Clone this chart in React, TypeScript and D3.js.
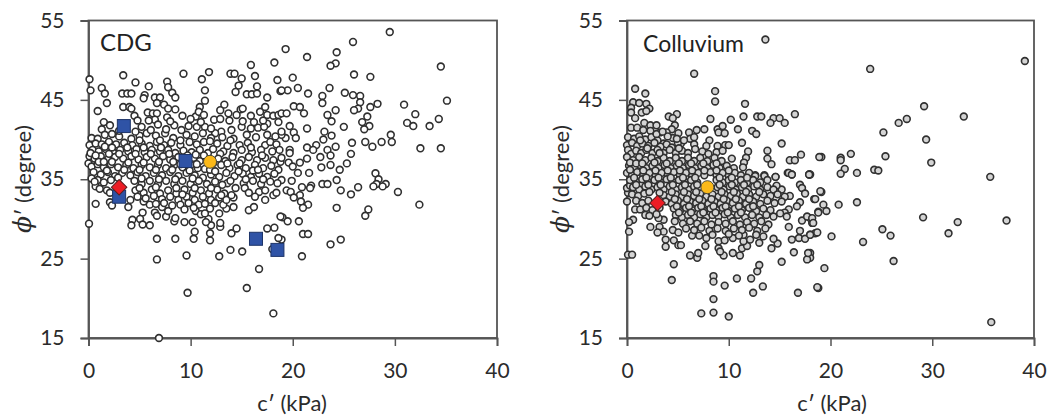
import * as d3 from "d3";
import { useEffect, useRef } from "react";

type Pt = [number, number];

const xTicks = [0, 10, 20, 30, 40];
const yTicks = [15, 25, 35, 45, 55];

// c' (kPa), phi' (degree)
const cdgPoints: Pt[] = [
  [0.1,47.6],[0.2,46.2],[3.4,48.1],[4.6,47.2],[1.3,46.5],[1.6,45.8],[1.8,44.6],[0.9,43.6],[3.3,45.8],[3.8,45.8],[4.2,45.8],[5.9,46.7],[5.5,45.6],[5.4,45.2],
  [7.7,47.3],[7.8,46.6],[8.2,45.9],[8.5,45.3],[9.3,48.3],[11.1,47.6],[11.8,48.5],[11.4,46.2],[11.4,44.9],[10.9,44.1],[13.9,48.3],[14.3,48.3],[15.0,47.7],[14.7,46.8],[14.4,46.0],
  [15.9,49.4],[16.3,48.0],[16.5,46.7],[15.5,45.7],[16.0,45.7],[16.5,45.8],[17.5,45.3],[18.2,49.7],[18.5,47.5],[18.8,46.1],[3.4,44.1],[4.0,44.1],[4.2,43.9],[4.5,43.0],
  [6.5,45.3],[7.0,45.3],[6.7,44.6],[7.4,44.4],[7.8,43.9],[8.5,43.8],[5.8,43.4],[6.3,43.3],[6.7,43.3],[6.5,42.5],[7.7,42.8],[9.2,43.0],[10.5,42.9],[10.8,43.5],[11.3,43.1],[12.3,42.5],
  [13.3,44.4],[12.9,43.7],[13.7,43.3],[14.9,43.8],[15.1,43.9],[14.5,43.1],[15.9,43.0],[16.8,43.5],[17.3,44.1],[17.5,43.1],[18.1,43.0],[18.6,43.1],
  [29.5,53.55],[25.9,52.3],[19.3,51.4],[21.4,50.4],[24.3,51.0],[24.2,49.6],[23.7,49.3],[34.5,49.2],[26.0,48.2],[27.6,47.9],[20.0,47.8],[23.6,46.5],[20.5,46.5],[19.5,46.2],[18.9,46.2],
  [21.5,45.8],[25.1,45.9],[25.9,45.6],[26.6,45.5],[22.9,45.5],[22.9,44.6],[26.6,44.7],[35.1,44.9],[28.3,44.5],[27.6,44.1],[30.9,44.4],[26.4,43.9],[26.0,43.7],[24.2,43.7],[20.1,44.2],[20.7,44.1],
  [21.1,43.3],[18.9,43.3],[19.4,43.3],[32.0,43.2],[34.3,42.6],[23.4,43.1],[23.8,42.3],[27.3,42.9],[26.8,42.2],[27.5,41.7],[27.0,41.3],[31.2,42.1],[31.8,41.7],[33.4,41.7],[25.0,41.6],[21.4,41.4],[19.7,41.7],
  [23.1,41.0],[23.8,40.5],[20.1,40.9],[23.0,40.0],[20.3,40.2],[19.3,40.2],[18.9,40.6],[29.6,40.6],[29.7,39.7],[28.7,39.7],[27.1,39.7],[27.8,39.1],[25.8,39.6],[24.2,39.1],[32.5,38.9],[34.5,38.9],
  [21.4,39.0],[22.3,39.3],[23.4,38.7],[22.0,38.7],[19.7,38.7],[19.7,38.3],[25.7,38.2],[23.7,38.0],[22.7,37.8],[21.4,37.6],[20.7,37.1],[19.6,37.1],[20.0,36.6],[18.8,37.2],[25.3,37.0],[23.7,36.8],[22.8,36.5],
  [24.6,36.2],[21.6,35.8],[20.5,35.8],[28.1,35.75],[28.4,35.0],[24.3,34.9],[19.9,34.8],[18.9,34.9],[29.1,34.4],[28.2,34.4],[27.9,34.1],[28.8,34.1],[30.3,33.4],[32.4,31.8],[26.4,34.0],[25.7,33.1],[24.7,33.6],
  [22.9,34.4],[23.4,34.4],[21.8,34.2],[21.7,33.9],[20.9,34.0],[19.4,33.6],[19.8,33.4],[20.7,33.0],[20.1,32.7],[20.8,32.2],[21.5,31.8],[21.0,31.4],[24.3,31.4],[27.4,31.2],[27.1,30.4],[19.0,30.2],[19.5,29.7],[20.6,29.7],
  [21.0,28.1],[21.5,28.1],[24.7,27.4],[23.7,26.8],[18.9,27.4],[20.9,25.3],
  [0.05,29.4],[0.7,34.1],[0.7,31.9],[1.8,33.6],[2.1,32.1],[2.3,31.7],[3.9,31.5],[4.1,32.4],[5.3,30.8],[4.3,29.9],[5.05,30.0],[4.2,29.2],[5.3,29.3],[6.0,29.2],[6.5,30.8],[6.7,30.4],[6.7,27.5],[8.5,27.5],[6.7,24.9],
  [9.7,20.7],[9.6,25.4],[10.3,27.5],[10.4,28.4],[9.4,29.6],[10.2,29.6],[8.4,29.7],[8.5,30.1],[7.6,30.3],[7.8,31.0],[7.2,31.5],[6.0,31.8],[5.4,32.2],[11.9,27.3],[11.9,28.2],[12.8,25.3],[13.9,26.1],[15.05,25.9],
  [16.7,23.7],[15.5,21.3],[14.0,28.2],[14.5,28.8],[12.9,29.0],[12.9,29.5],[12.0,29.2],[11.75,30.0],[11.5,29.6],[10.5,31.0],[11.0,30.6],[11.4,30.7],[11.9,31.3],[12.8,30.7],[13.5,31.3],[14.2,31.5],[13.2,31.8],
  [15.7,31.1],[16.2,31.5],[17.5,28.8],[18.2,28.9],[17.3,32.4],[18.1,33.0],[18.0,26.2],[18.6,27.6],[18.8,30.3],[13.6,34.5],[15.2,34.5],[14.4,33.9],[15.3,33.9],[16.7,33.4],[16.3,32.8],[6.9,15.0],[18.1,18.1],
  [1.5,42.2],[1.3,41.3],[2.1,41.8],[5.9,42.4],[5.2,41.6],[6.8,41.9],[8.4,41.8],[9.8,41.7],[10.6,41.6],[11.4,41.6],[13.0,41.0],[14.0,41.2],[15.0,41.6],[15.9,41.4],[16.6,41.5],[17.5,42.0],[18.6,42.2],[17.2,41.6],[12.4,40.8],
  [8.0,42.3],[10.0,42.6],[11.0,42.2],[12.9,42.6],[13.8,42.4],[15.1,42.3],[16.2,42.2],[17.1,42.4],[4.8,42.4],[18.9,41.0],
  [0.3,40.2],[0.9,40.1],[1.6,40.6],[2.3,40.7],[3.0,40.4],[4.2,40.1],[5.0,40.5],[5.7,40.8],[6.6,40.5],[7.5,40.8],[8.3,40.2],[9.6,40.6],[10.4,40.4],[11.2,40.8],[12.0,40.2],[13.1,40.3],[14.2,40.1],[15.5,40.6],[16.4,40.3],[17.5,40.6],[18.3,40.4],
  [0.1,39.3],[0.7,39.5],[1.3,39.4],[2.0,39.7],[2.7,39.4],[3.5,39.6],[4.3,39.3],[5.2,39.5],[6.0,39.2],[6.7,39.7],[7.4,39.3],[8.1,39.6],[9.0,39.3],[9.9,39.7],[10.6,39.4],[11.3,39.7],[12.6,39.5],[13.6,39.2],[14.8,39.3],[15.6,39.6],[17.3,39.3],[17.8,39.7],[18.4,39.4],
  [0.4,38.7],[1.0,38.5],[1.7,38.8],[2.4,38.4],[3.1,38.7],[3.9,38.5],[4.7,38.8],[5.5,38.4],[6.2,38.7],[7.0,38.5],[7.8,38.7],[8.5,38.3],[9.3,38.6],[10.1,38.4],[10.9,38.7],[11.7,38.3],[12.2,38.8],[13.2,38.5],[14.2,38.3],[15.0,38.7],[16.0,38.4],[16.9,38.7],[18.0,38.5],[18.7,38.7],[12.9,38.2],
  [0.1,37.9],[0.6,37.6],[1.2,37.9],[1.9,37.5],[2.6,37.8],[3.4,37.6],[4.2,37.9],[4.9,37.5],[5.7,37.8],[6.5,37.6],[7.3,37.9],[8.0,37.5],[8.8,37.8],[10.3,37.7],[10.9,37.3],[12.7,37.6],[13.4,37.3],[14.1,37.8],[15.0,37.4],[15.7,37.8],[16.5,37.4],[17.3,37.7],[18.1,37.4],[18.9,37.7],
  [0.0,37.0],[0.3,36.6],[0.9,36.9],[1.5,36.5],[2.2,36.9],[2.9,36.5],[3.7,36.8],[4.4,36.4],[5.2,36.8],[6.0,36.5],[6.8,36.8],[7.6,36.4],[8.4,36.8],[9.2,36.5],[10.0,36.8],[10.7,36.4],[11.4,36.3],[13.0,36.8],[13.8,36.4],[14.6,36.8],[15.4,36.4],[16.3,36.8],[17.1,36.4],[17.9,36.7],[18.6,36.2],
  [0.5,35.9],[1.2,35.6],[1.9,35.9],[2.6,35.4],[3.3,35.8],[4.1,35.5],[4.8,35.9],[5.6,35.4],[6.4,35.8],[7.2,35.5],[8.0,35.9],[8.8,35.4],[9.6,35.8],[10.4,35.5],[11.2,35.2],[12.0,35.6],[12.8,35.3],[13.5,35.8],[14.3,35.4],[15.1,35.7],[15.9,35.3],[16.7,35.7],[17.5,35.3],[18.2,35.7],
  [0.9,34.9],[1.5,34.6],[2.2,34.9],[4.5,34.8],[5.2,34.4],[6.0,34.8],[6.8,34.4],[7.6,34.8],[8.4,34.4],[9.2,34.8],[10.0,34.4],[10.8,34.8],[11.6,34.4],[12.4,34.7],[13.1,34.3],[13.9,34.8],[16.1,34.8],[16.9,34.4],[17.8,34.7],[18.5,34.5],
  [1.1,33.8],[2.1,33.3],[4.6,33.6],[5.4,33.3],[6.2,33.7],[7.0,33.2],[7.8,33.6],[8.6,33.2],[9.4,33.7],[10.2,33.3],[11.0,33.6],[11.8,33.2],[12.6,33.7],[13.3,33.2],[15.7,33.3],[17.3,33.6],[18.4,33.3],
  [4.8,32.8],[5.6,32.6],[6.4,32.9],[7.2,32.5],[8.0,32.8],[8.8,32.4],[9.6,32.8],[10.4,32.4],[11.2,32.8],[12.0,32.4],[12.8,32.7],[13.5,32.4],[14.2,32.7],
  [6.6,31.9],[8.2,31.7],[9.0,31.8],[9.8,32.0],[10.8,31.8],[11.4,31.9],[12.4,32.0],[14.0,33.0],
  // second pass over the crowded middle
  [1.6,39.1],[2.3,39.0],[3.0,38.2],[3.8,39.0],[4.6,38.2],[5.4,39.0],[6.1,38.2],[7.1,39.0],[7.9,38.2],[9.0,39.9],[9.7,38.0],[10.5,38.1],[11.3,38.0],[2.0,38.2],[1.0,37.2],[2.3,37.2],[3.9,37.1],[5.4,37.1],[6.9,37.2],[8.3,37.2],[9.0,36.9],[10.6,36.9],[12.2,37.0],[1.8,36.1],[3.5,36.2],[5.0,36.2],[6.6,36.2],[8.2,36.2],[9.9,36.1],[11.9,36.2],[2.9,35.2],[5.2,35.1],[6.9,35.0],[8.5,35.0],[10.2,35.1],[12.4,36.0],[14.7,36.0],[16.1,36.1],[0.3,35.1],[0.6,34.7],[0.2,38.3],[0.7,38.0],[1.5,37.2],[4.6,41.0],[6.1,41.2],[7.6,41.3],[9.1,41.2],[3.0,41.1],[5.0,39.9],[7.0,39.9],[11.9,39.8],[13.9,39.9],[12.0,41.4],[15.9,39.0],[17.0,38.0],[13.6,37.0],[15.4,35.0],[17.1,35.0],[14.8,37.0],[16.6,36.2],[8.6,33.9],[6.6,34.0],[10.4,33.9],[12.0,33.9],[5.0,33.9],[13.0,33.0],[9.2,33.1],[7.4,32.0],[9.4,31.2],[10.3,31.4],
];

const colluviumPoints: Pt[] = [
  [39.1,49.9],[23.9,48.9],[29.2,44.2],[33.1,42.9],[27.5,42.6],[26.7,42.1],[25.2,40.9],[29.4,40.0],[25.4,37.9],[29.9,37.1],[22.0,38.2],[19.1,37.8],[21.0,37.7],[21.0,37.4],[21.4,36.3],[21.0,35.7],[22.6,35.8],[24.3,36.2],[24.7,36.1],[18.0,35.6],
  [35.7,35.3],[19.1,33.4],[18.4,32.5],[22.6,32.1],[20.8,31.8],[19.3,31.8],[18.8,30.9],[19.6,31.0],[29.1,30.2],[32.5,29.6],[37.3,29.8],[31.6,28.2],[25.1,28.7],[25.9,27.9],[23.2,27.1],[20.1,27.8],[18.5,28.2],[26.2,24.7],[19.4,23.8],[18.8,21.3],[35.8,17.0],
  [18.0,30.1],[18.2,29.5],[18.0,28.0],[18.0,25.7],[18.0,25.1],
  [13.6,52.6],[6.6,48.3],[0.8,46.4],[1.8,45.8],[8.66,46.1],[8.66,44.8],[11.6,44.5],[0.6,44.7],[1.2,44.6],[1.9,44.5],[2.2,43.9],[0.4,44.0],[0.4,43.4],[1.45,43.4],[1.9,43.6],[0.8,42.7],[4.1,42.9],[4.9,43.2],[4.5,42.7],[8.2,42.6],[10.2,42.5],[11.45,42.9],[12.8,42.9],[13.2,42.9],[14.4,42.7],[15.0,42.7],[14.1,42.1],[15.5,42.1],[16.5,43.2],
  [1.7,42.1],[2.3,41.8],[2.9,41.8],[4.7,41.8],[4.4,41.3],[0.4,41.5],[1.0,41.5],[1.6,41.2],[2.3,41.1],[3.25,40.9],[3.9,40.9],[5.05,40.8],[6.1,40.9],[6.85,41.2],[7.6,41.3],[8.9,41.3],[9.4,41.7],[9.0,40.9],[9.6,40.8],[10.9,41.3],[12.3,41.1],[12.7,40.7],
  [6.2,40.1],[6.6,40.3],[8.1,39.9],[11.3,39.6],[15.2,39.5],[7.8,39.2],[8.9,39.2],[9.65,39.3],[10.0,39.3],[3.6,39.5],[5.3,39.5],[11.9,38.5],[13.8,38.6],[17.1,38.1],[16.0,37.4],[16.5,37.4],[13.8,37.6],[14.2,36.9],[10.3,37.6],[11.7,37.7],[11.5,37.1],[11.4,36.5],[18.9,37.8],[15.8,35.8],[16.2,35.6],[17.9,35.6],[12.6,35.5],[13.5,35.5],[14.6,35.3],[12.0,35.8],
  [0.1,25.5],[0.5,25.5],[0.2,28.4],[0.6,29.9],[0.2,29.6],[0.8,31.2],[1.3,31.2],[1.8,30.5],[0.0,32.2],[0.1,33.3],[0.0,33.9],[0.3,34.2],[4.6,24.3],[4.4,22.3],[8.5,22.8],[8.5,22.1],[9.6,21.6],[8.5,19.9],[7.3,18.1],[8.5,18.2],[10.0,17.7],[10.8,22.5],[12.2,22.5],[12.8,23.4],[13.0,24.2],[13.35,21.5],[12.4,20.7],[16.8,20.7],[18.7,21.4],
  [15.2,24.6],[17.7,24.9],[17.8,25.7],[16.4,25.8],[6.2,25.4],[6.9,25.1],[7.0,25.7],[9.5,25.4],[10.4,25.7],[11.1,25.4],[3.8,26.5],[3.8,27.4],[4.6,27.3],[5.05,26.7],[5.3,26.7],[2.3,29.0],[3.2,29.0],[3.6,28.4],[3.0,28.3],[3.6,29.9],[3.1,30.1],[4.5,28.6],[5.05,28.3],[6.4,27.9],
  [7.8,27.6],[7.7,26.6],[9.0,27.2],[9.0,26.3],[9.15,25.9],[9.6,27.3],[10.4,27.6],[11.3,26.3],[11.8,26.6],[11.45,27.2],[11.45,28.0],[12.1,27.4],[13.0,27.0],[13.4,27.8],[14.2,26.3],[14.8,26.9],[14.4,27.5],[16.2,27.4],[16.9,27.6],[17.5,27.5],[18.0,28.0],[18.7,28.3],[17.0,28.5],
  [15.9,29.0],[17.2,29.8],[17.7,30.3],[18.2,30.1],[18.3,29.5],[18.8,30.8],[18.5,32.5],[19.0,33.5],[17.0,34.3],[17.2,33.9],[17.5,33.2],[17.0,32.1],[16.7,31.6],[16.0,32.9],[15.9,31.2],[15.5,30.8],[15.05,30.7],[15.7,30.3],[15.2,33.7],[14.7,34.2],[14.6,35.3],[13.5,35.4],[12.6,35.4],[15.9,35.8],[16.2,35.6],[17.9,35.6],
  [0.1,40.3],[0.7,40.1],[1.2,40.4],[1.8,40.0],[2.4,40.3],[3.0,39.9],[4.5,40.2],[4.0,40.4],
  [0.0,39.3],[0.5,39.6],[1.0,39.2],[1.5,39.5],[2.1,39.2],[2.7,39.6],[3.3,39.1],[3.9,39.4],[4.4,39.0],[5.0,39.6],[6.6,39.4],
  [0.1,38.7],[0.4,38.2],[0.9,38.6],[1.4,38.3],[1.9,38.7],[2.5,38.3],[3.0,38.7],[3.6,38.3],[4.2,38.7],[4.8,38.3],[5.4,38.6],[6.0,38.3],[6.7,38.8],[7.4,38.5],[8.0,38.2],[8.8,38.4],[9.4,38.6],
  [0.0,37.8],[0.6,37.4],[1.2,37.8],[1.8,37.4],[2.4,37.7],[3.0,37.3],[3.6,37.7],[4.2,37.3],[4.8,37.7],[5.4,37.3],[6.0,37.7],[6.6,37.3],[7.2,37.7],[7.9,37.3],[8.6,37.7],[9.3,37.3],
  [0.2,36.7],[0.7,36.4],[1.3,36.8],[1.9,36.4],[2.5,36.7],[3.1,36.4],[3.7,36.8],[4.3,36.4],[4.9,36.7],[5.5,36.4],[6.1,36.8],[6.7,36.4],[7.3,36.7],[7.9,36.4],[8.5,36.8],[9.1,36.4],[9.8,36.7],[10.5,36.4],
  [0.0,35.8],[0.5,35.5],[1.0,35.9],[1.6,35.5],[2.2,35.8],[2.8,35.4],[3.4,35.8],[4.0,35.5],[4.6,35.9],[5.2,35.5],[5.8,35.8],[6.4,35.4],[7.0,35.8],[7.6,35.5],[8.2,35.9],[8.8,35.5],[9.4,35.8],[10.0,35.4],[10.6,35.8],[11.2,35.5],
  [0.3,34.9],[0.9,34.7],[1.5,35.0],[2.1,34.6],[2.7,34.9],[3.3,34.6],[3.9,35.0],[4.5,34.6],[5.1,34.9],[5.7,34.6],[6.3,34.9],[6.9,34.6],[8.8,34.9],[9.4,34.6],[10.0,34.9],[10.6,34.6],[11.2,34.9],[11.8,34.6],[12.4,34.9],[13.1,34.6],[13.8,34.9],
  [0.6,34.0],[1.2,33.7],[1.8,34.1],[2.4,33.7],[3.0,34.0],[3.6,33.7],[4.2,34.1],[4.8,33.7],[5.4,34.0],[6.0,33.7],[6.6,34.1],[7.2,33.7],[8.9,34.0],[9.5,33.7],[10.1,34.1],[10.7,33.7],[11.3,34.0],[11.9,33.7],[12.5,34.1],[13.1,33.7],[13.8,34.0],[14.4,33.7],
  [0.5,33.1],[1.1,32.9],[1.7,33.2],[3.6,33.0],[4.2,32.8],[4.8,33.1],[5.4,32.8],[6.0,33.1],[6.6,32.9],[7.2,33.2],[7.8,32.8],[8.4,33.1],[9.0,32.8],[9.6,33.1],[10.2,32.9],[10.8,33.2],[11.4,32.8],[12.0,33.1],[12.7,32.8],[13.4,33.1],[14.1,32.9],[14.8,33.1],[15.5,32.8],
  [0.9,32.3],[1.5,32.0],[2.1,32.3],[3.8,32.2],[4.4,31.9],[5.0,32.3],[5.6,31.9],[6.2,32.2],[6.8,32.0],[7.4,32.3],[8.0,31.9],[8.6,32.2],[9.2,31.9],[9.8,32.3],[10.4,32.0],[11.0,32.3],[11.7,31.9],[12.4,32.2],[13.1,31.9],[13.8,32.3],[14.5,32.0],[15.2,32.2],
  [1.9,31.4],[2.5,31.1],[3.2,31.4],[4.6,31.3],[5.2,31.0],[5.8,31.4],[6.4,31.1],[7.0,31.4],[7.6,31.0],[8.2,31.3],[8.8,31.1],[9.4,31.4],[10.0,31.0],[10.6,31.3],[11.3,31.1],[12.0,31.4],[12.7,31.0],[13.4,31.3],[14.1,31.1],
  [2.2,30.4],[2.9,30.6],[4.8,30.5],[5.4,30.2],[6.0,30.5],[6.6,30.2],[7.2,30.6],[7.8,30.2],[8.4,30.5],[9.0,30.3],[9.6,30.6],[10.2,30.2],[10.9,30.5],[11.6,30.2],[12.3,30.5],[13.0,30.2],[13.7,30.5],[14.4,30.3],
  [4.7,29.7],[5.5,29.4],[6.2,29.7],[6.9,29.4],[7.6,29.7],[8.3,29.3],[9.0,29.6],[9.7,29.4],[10.4,29.7],[11.1,29.3],[11.8,29.6],[12.5,29.4],[13.2,29.7],[13.9,29.3],
  [5.8,28.8],[6.6,28.6],[7.3,28.9],[8.1,28.5],[8.9,28.8],[9.7,28.5],[10.5,28.8],[11.3,28.6],[12.0,28.9],[12.8,28.5],[13.6,28.8],
  [7.1,27.9],[8.4,28.0],[10.0,28.1],[11.0,27.9],[12.7,28.0],
  // second pass over the crowded left side
  [2.9,40.7],[3.5,41.0],[4.9,40.1],[5.6,39.9],[1.3,39.9],[2.0,38.9],[3.2,38.3],[5.1,38.9],[0.3,37.1],[0.9,37.0],[1.5,37.0],[2.7,37.1],[3.9,37.0],[5.1,37.0],[6.3,37.0],[7.5,37.0],[8.8,37.0],[0.3,36.2],[1.6,36.1],[2.8,36.1],[4.0,36.1],[5.2,36.1],[6.4,36.1],[7.6,36.1],[8.8,36.1],[10.0,36.1],[0.7,35.2],[1.9,35.2],[3.1,35.2],[4.3,35.2],[5.5,35.2],[6.7,35.2],[9.1,35.2],[10.3,35.2],[11.8,35.2],[0.9,34.3],[2.1,34.3],[3.3,34.3],[4.5,34.3],[5.7,34.3],[6.9,34.3],[9.1,34.3],[10.3,34.3],[11.5,34.3],[12.8,34.3],[2.2,33.4],[3.2,33.3],[4.4,33.4],[5.6,33.4],[6.8,33.4],[9.3,33.4],[10.5,33.4],[11.7,33.4],[13.0,33.4],[4.7,32.5],[5.9,32.5],[7.1,32.5],[8.3,32.5],[9.5,32.5],[10.7,32.5],[12.0,32.5],[4.9,31.6],[6.1,31.6],[7.3,31.6],[8.5,31.6],[9.7,31.6],[11.0,31.6],[12.4,31.6],[5.1,30.8],[6.3,30.8],[7.5,30.8],[8.7,30.8],[9.9,30.8],[11.2,30.8],
];

const cdgSquares: Pt[] = [[3.0,32.8],[3.46,41.7],[9.5,37.3],[16.4,27.5],[18.5,26.1]];
const cdgDiamond: Pt[] = [[3.0,34.0]];
const cdgMean: Pt[] = [[11.9,37.2]];
const colluviumDiamond: Pt[] = [[3.0,32.0]];
const colluviumMean: Pt[] = [[7.9,34.0]];

const FONT = "Lato, 'Open Sans', sans-serif";
const AXIS = "#555";

function Panel({ left, right, title, titleX, titleY, titleSize, points, fill, squares, diamond, mean, labelX, xTitleX }: any) {
  const ref = useRef<SVGGElement>(null);
  const top = 20.5, bottom = 338;

  useEffect(() => {
    const g = d3.select(ref.current);
    g.selectAll("*").remove();

    const x = d3.scaleLinear().domain([0, 40]).range([left, right]);
    const y = d3.scaleLinear().domain([15, 55]).range([bottom, top]);

    // frame
    g.append("rect")
      .attr("x", left).attr("y", top)
      .attr("width", right - left).attr("height", bottom - top)
      .attr("fill", "#fff").attr("stroke", AXIS).attr("stroke-width", 1.8);

    const xAxis = g.append("g")
      .attr("transform", `translate(0,${bottom})`)
      .call(d3.axisBottom(x).tickValues(xTicks).tickSize(8).tickPadding(17).tickFormat(d3.format("d")));
    const yAxis = g.append("g")
      .attr("transform", `translate(${left},0)`)
      .call(d3.axisLeft(y).tickValues(yTicks).tickSize(8).tickPadding(16).tickFormat(d3.format("d")));
    [xAxis, yAxis].forEach(a => {
      a.selectAll("path").attr("stroke", AXIS).attr("stroke-width", 1.8);
      a.selectAll("line").attr("stroke", AXIS).attr("stroke-width", 1.5);
      a.selectAll("text").attr("fill", "#2b2b2b").style("font-family", FONT).style("font-size", "21px");
    });

    g.append("g").selectAll("circle").data(points as Pt[]).join("circle")
      .attr("cx", d => x(d[0])).attr("cy", d => y(d[1]))
      .attr("r", 3.4).attr("fill", fill).attr("stroke", "#303030").attr("stroke-width", 1.6);

    g.append("g").selectAll("rect").data((squares || []) as Pt[]).join("rect")
      .attr("x", d => x(d[0]) - 6.5).attr("y", d => y(d[1]) - 6.5)
      .attr("width", 13).attr("height", 13)
      .attr("fill", "#2f53a6").attr("stroke", "#1d3468").attr("stroke-width", 1);

    g.append("g").selectAll("path").data(diamond as Pt[]).join("path")
      .attr("d", d3.symbol(d3.symbolSquare, 120))
      .attr("transform", d => `translate(${x(d[0])},${y(d[1])}) rotate(45)`)
      .attr("fill", "#ec1c24").attr("stroke", "#5a2020").attr("stroke-width", 1);

    g.append("g").selectAll("circle").data(mean as Pt[]).join("circle")
      .attr("cx", d => x(d[0])).attr("cy", d => y(d[1]))
      .attr("r", 6.5).attr("fill", "#fbb919").attr("stroke", "#4a4a3a").attr("stroke-width", 1);
  }, []);

  const labelStyle = { fontFamily: FONT, fontSize: 22, fill: "#2b2b2b" };

  return (
    <g>
      <g ref={ref} />
      <text x={titleX} y={titleY} style={{ fontFamily: FONT, fontSize: titleSize, fill: "#222" }}>{title}</text>
      <text x={xTitleX} y={411} textAnchor="middle" style={labelStyle}>c′ (kPa)</text>
      <text transform={`translate(${labelX},179) rotate(-90)`} textAnchor="middle" style={labelStyle}>
        <tspan fontStyle="italic" fontSize={25} fontFamily="'DejaVu Serif', serif">ϕ</tspan>′ (degree)
      </text>
    </g>
  );
}

export default function App() {
  return (
    <svg width={1048} height={419} style={{ position: "absolute", left: 0, top: 0, background: "#fff" }}>
      <Panel left={88.5} right={497} title="CDG" titleX={100} titleY={51} titleSize={24} points={cdgPoints} fill="#fff"
        squares={cdgSquares} diamond={cdgDiamond} mean={cdgMean} labelX={31} xTitleX={292} />
      <Panel left={627} right={1034} title="Colluvium" titleX={643} titleY={52} titleSize={23} points={colluviumPoints} fill="#d4d4d4"
        diamond={colluviumDiamond} mean={colluviumMean} labelX={569} xTitleX={832} />
    </svg>
  );
}
